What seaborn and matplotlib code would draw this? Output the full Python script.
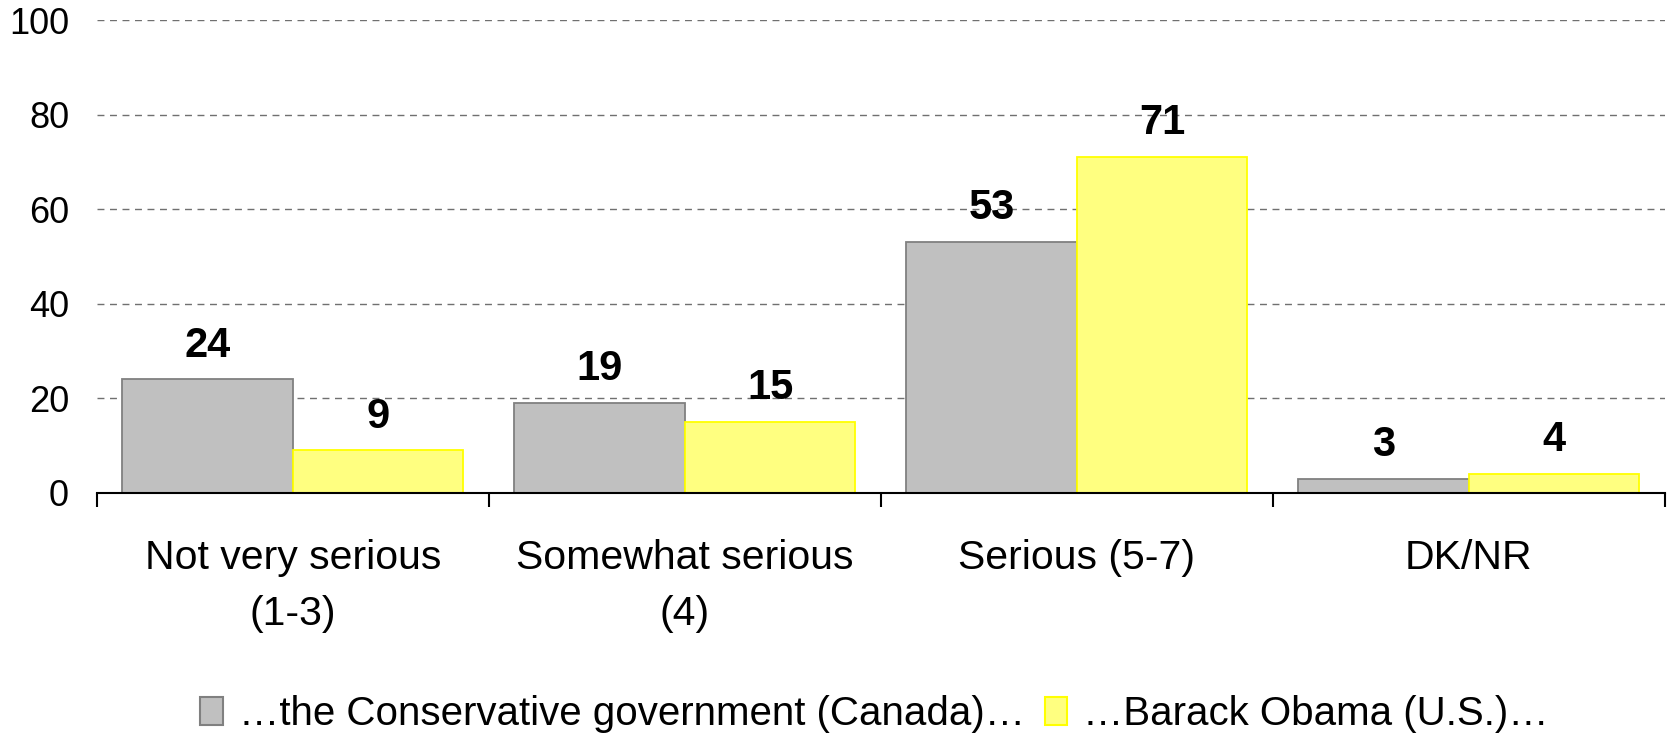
import pandas as pd
import numpy as np
import matplotlib.pyplot as plt
import seaborn as sns

categories = ["Not very serious\n(1-3)", "Somewhat serious\n(4)", "Serious (5-7)", "DK/NR"]
series = ["\u2026the Conservative government (Canada)\u2026", "\u2026Barack Obama (U.S.)\u2026"]
canada = [24, 19, 53, 3]
obama = [9, 15, 71, 4]
yticks = [0, 20, 40, 60, 80, 100]

df = pd.DataFrame({
    "category": categories * 2,
    "series": [series[0]] * 4 + [series[1]] * 4,
    "value": canada + obama,
})

sns.set_style("white")
plt.rcParams['font.family'] = ['Liberation Sans', 'DejaVu Sans']
plt.rcParams['text.color'] = 'black'
plt.rcParams['xtick.color'] = 'black'
plt.rcParams['ytick.color'] = 'black'

fig = plt.figure(figsize=(16.69, 7.43), dpi=100)
ax = fig.add_axes([0.058, 0.3365, 0.9395, 0.6365])

sns.barplot(data=df, x="category", y="value", hue="series", order=categories,
            hue_order=series, palette=["#C0C0C0", "#FFFF80"], width=0.87,
            saturation=1, ax=ax, legend=False)

edges = ["#808080", "#FFFF00"]
for cont, ec in zip(ax.containers, edges):
    for bar in cont:
        bar.set_edgecolor(ec)
        bar.set_linewidth(1.3)
    ax.bar_label(cont, padding=10, fontsize=30, fontweight='bold', color='black')

ax.set_ylim(0, 100)
ax.set_xlim(-0.5, 3.5)
ax.set_yticks(yticks)
ax.tick_params(axis='y', length=0, labelsize=26, pad=20, labelcolor='black')
ax.yaxis.grid(True, linestyle=(0, (5, 4)), color='#707070', linewidth=1)
ax.set_axisbelow(True)

# group dividers as major ticks, labels on minor ticks
ax.set_xticks(np.arange(-0.5, 4, 1))
ax.set_xticklabels([])
ax.set_xticks(range(len(categories)), minor=True)
ax.set_xticklabels(categories, minor=True, fontsize=29.5, linespacing=1.6, color='black')
ax.tick_params(axis='x', which='major', bottom=True, length=10, width=1.5,
               color='black', direction='out')
ax.tick_params(axis='x', which='minor', bottom=True, length=0, pad=33)

for s in ['top', 'right', 'left']:
    ax.spines[s].set_visible(False)
ax.spines['bottom'].set_color('black')
ax.spines['bottom'].set_linewidth(1.5)
ax.set_xlabel("")
ax.set_ylabel("")

handles = [plt.Rectangle((0, 0), 1, 1, facecolor=c, edgecolor=e, linewidth=1.5)
           for c, e in zip(["#C0C0C0", "#FFFF80"], edges)]
fig.legend(handles, series, loc='center', bbox_to_anchor=(0.524, 0.039), ncol=2,
           frameon=False, fontsize=29, handlelength=0.55, handleheight=0.7,
           handletextpad=0.4, columnspacing=0.5, labelcolor='black')

fig.savefig("out.png", dpi=100)
